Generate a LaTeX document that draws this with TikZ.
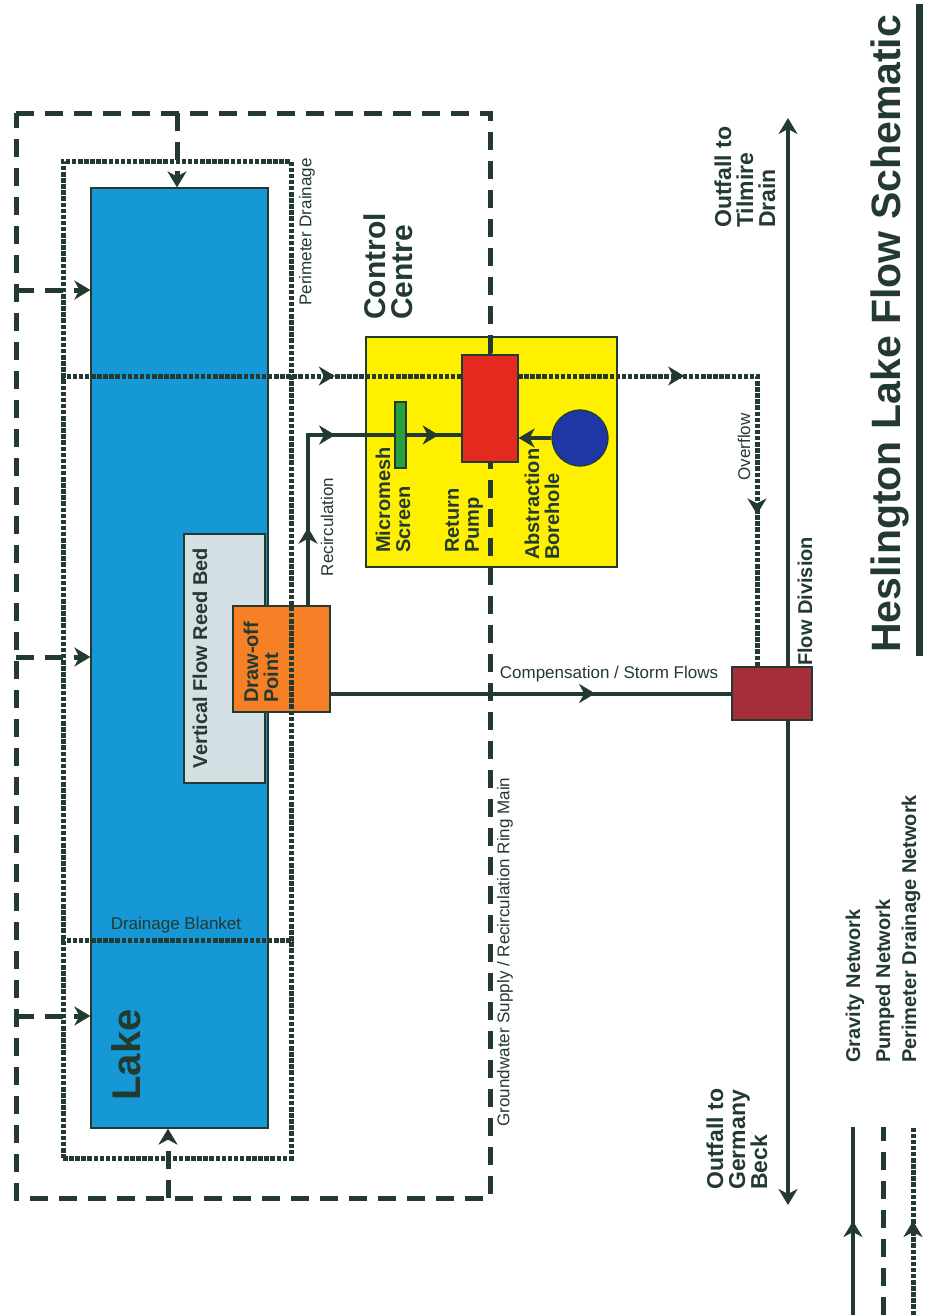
\documentclass[tikz,border=0pt]{standalone}
\usepackage{fontspec}
\setmainfont{Liberation Sans}
\usetikzlibrary{arrows.meta,positioning,calc,decorations.markings}
\definecolor{darkline}{RGB}{35,58,48}
\definecolor{lakeblue}{RGB}{22,152,214}
\definecolor{reedgrey}{RGB}{212,224,228}
\definecolor{draworange}{RGB}{246,128,38}
\definecolor{ccyellow}{RGB}{255,240,0}
\definecolor{pumpred}{RGB}{228,42,30}
\definecolor{boreblue}{RGB}{30,55,165}
\definecolor{screengreen}{RGB}{40,160,60}
\definecolor{divmaroon}{RGB}{166,46,56}

\tikzset{midtip/.style={postaction={decorate, decoration={markings, mark=at position #1 with {\arrow{Stealth[length=16pt,width=19pt,inset=5pt]}}}}}}

\begin{document}
\begin{tikzpicture}[x=1pt, y=-1pt]

\tikzstyle{block} = [rectangle, draw=darkline, line width=1.2pt, inner sep=0pt];
\tikzstyle{gravity} = [draw=darkline, line width=4pt];
\tikzstyle{pumped} = [draw=darkline, line width=5pt, dash pattern=on 18pt off 11pt];
\tikzstyle{drain} = [draw=darkline, line width=5pt, dash pattern=on 4.5pt off 1.6pt];
\tikzstyle{tip} = [-{Stealth[length=16pt,width=19pt,inset=5pt]}];
\tikzstyle{lbl} = [font=\fontsize{17}{19}\selectfont, text=darkline, inner sep=0pt];
\tikzstyle{blbl} = [font=\bfseries\fontsize{20}{20}\selectfont, text=darkline, inner sep=0pt, align=left];
\tikzstyle{olbl} = [font=\bfseries\fontsize{23}{22}\selectfont, text=darkline, inner sep=0pt, align=left];

\useasboundingbox (0,0) rectangle (926,1315);

% Lake side
\node (lake) [block, fill=lakeblue, minimum width=177pt, minimum height=940pt] at (179.5,658) {};
\node (reedbed) [block, fill=reedgrey, minimum width=81pt, minimum height=249pt] at (224.5,658.5) {};
\node (drawoff) [block, fill=draworange, minimum width=97pt, minimum height=106pt] at (281.5,659) {};

% Control centre and flow division
\node (control) [block, fill=ccyellow, minimum width=251pt, minimum height=230pt] at (491.5,452) {};
\node (flowdiv) [block, fill=divmaroon, minimum width=80pt, minimum height=53pt] at (772,693.5) {};

% Perimeter drainage
\node (perim) [drain, rectangle, minimum width=228pt, minimum height=997pt] at (177,659.5) {};
\coordinate (blanket) at (177,940);
\draw[drain] (perim.west |- blanket) -- (perim.east |- blanket);

% Ring main
\coordinate (ringNW) at (16,113);
\coordinate (ringNE) at (490,113);
\coordinate (ringSE) at (490,1198);
\coordinate (ringSW) at (16,1198);
\draw[pumped] (ringNW) -- (ringNE) -- (ringSE) -- (ringSW) -- cycle;
\coordinate (feedN) at (177,113);
\coordinate (feedS) at (168,1198);
\foreach \n/\y in {1/290, 2/657, 3/1016}
  \coordinate (feed\n) at (16,\y);
\draw[pumped, tip] (feedN) -- (feedN |- lake.north);
\draw[pumped, tip] (feedS) -- (feedS |- lake.south);
\foreach \n in {1,2,3}
  \draw[pumped, tip] (feed\n) -- (feed\n -| lake.west);

% Overflow
\coordinate (ovf) at (757,376);
\draw[drain, midtip=0.278, midtip=0.632, midtip=0.846] (perim.west |- ovf) -- (ovf) -- (ovf |- flowdiv.north);

% Pump, screen, borehole
\node (pump) [block, fill=pumpred, minimum width=56pt, minimum height=107pt] at (490,408.5) {};
\draw[darkline, line width=4.5pt] (pump.north) -- (pump.north |- control.north);
\coordinate (recirc) at (308,435);
\draw[gravity, midtip=0.24, midtip=0.61, midtip=0.93] (drawoff.north -| recirc) -- (recirc) -- (recirc -| pump.west);
\node (screen) [block, fill=screengreen, minimum width=11pt, minimum height=66pt] at (400.5,435) {};
\node (borehole) [circle, draw=darkline, line width=1.2pt, fill=boreblue, minimum size=56pt, inner sep=0pt] at (580,438) {};
\draw[gravity, tip] (borehole.west) -- (borehole.west -| pump.east);

% Outfalls
\draw[gravity, midtip=0.66] (drawoff.east |- flowdiv.west) -- (flowdiv.west);
\coordinate (tilmire) at (788,118);
\coordinate (germany) at (788,1205);
\draw[gravity, tip] (flowdiv.north -| tilmire) -- (tilmire);
\draw[gravity, tip] (flowdiv.south -| germany) -- (germany);

% Labels
\node (lakelbl) [font=\bfseries\fontsize{40}{44}\selectfont, text=darkline, rotate=90] at (126,1055) {Lake};
\node (blanketlbl) [lbl] at (176,925) {Drainage Blanket};
\node (perimlbl) [lbl, rotate=90] at (307,232) {Perimeter Drainage};
\node (reedlbl) [blbl, rotate=90] at (200,658) {Vertical Flow Reed Bed};
\node (drawofflbl) [blbl, rotate=90, anchor=west] at (261,703) {Draw-off\\Point};
\node (ctrllbl) [font=\bfseries\fontsize{30}{27}\selectfont, text=darkline, inner sep=0pt, align=left, rotate=90, anchor=west] at (388,320) {Control\\Centre};
\node (recirclbl) [lbl, rotate=90] at (327,527) {Recirculation};
\node (screenlbl) [blbl, rotate=90, anchor=west] at (393,553) {Micromesh\\Screen};
\node (pumplbl) [blbl, rotate=90, anchor=west] at (464,553) {Return\\Pump};
\node (borelbl) [blbl, rotate=90, anchor=west] at (542,560) {Abstraction\\Borehole};
\node (ringlbl) [lbl, rotate=90] at (505,952) {Groundwater Supply / Recirculation Ring Main};
\node (complbl) [lbl] at (609,674) {Compensation / Storm Flows};
\node (ovflbl) [lbl, rotate=90] at (744,447) {Overflow};
\node (flowdivlbl) [blbl, rotate=90, anchor=west] at (805,666) {Flow Division};
\node (tilmirelbl) [olbl, rotate=90, anchor=west] at (745,228) {Outfall to\\Tilmire\\Drain};
\node (germanylbl) [olbl, rotate=90, anchor=west] at (737,1190) {Outfall to\\Germany\\Beck};

% Title
\node (title) [font=\bfseries\fontsize{41}{45}\selectfont, text=darkline, inner sep=0pt, rotate=90, anchor=west] at (890,653) {Heslington Lake Flow Schematic};
\coordinate (barS) at (919.5,656);
\coordinate (barN) at (919.5,4);
\draw[darkline, line width=7pt] (barS) -- (barN);

% Legend
\foreach \n/\x in {A/853, B/883, C/913} {
  \coordinate (key\n top) at (\x,1127);
  \coordinate (key\n bot) at (\x,1315);
}
\draw[gravity, midtip=0.5] (keyAbot) -- (keyAtop);
\draw[pumped] (keyBbot) -- (keyBtop);
\draw[drain, midtip=0.5] (keyCbot) -- (keyCtop);
\node (gravlbl) [blbl, rotate=90, anchor=west] at (855,1063) {Gravity Network};
\node (pumplgd) [blbl, rotate=90, anchor=west] at (885,1063) {Pumped Network};
\node (perimlgd) [blbl, rotate=90, anchor=west] at (911,1063) {Perimeter Drainage Network};

\end{tikzpicture}
\end{document}
